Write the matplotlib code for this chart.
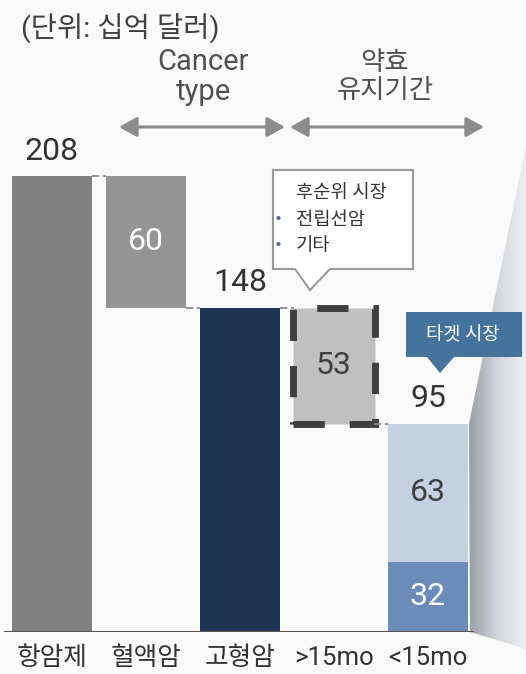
import numpy as np
import matplotlib.pyplot as plt
from matplotlib.patches import Polygon, FancyArrowPatch
from matplotlib.colors import LinearSegmentedColormap

plt.rcParams['font.family'] = ['Roboto', 'Noto Sans CJK KR', 'DejaVu Sans']

# 시장 규모 (단위: 십억 달러)
categories = ['항암제', '혈액암', '고형암', '>15mo', '<15mo']
total = 208
blood = 60
solid = 148
over15 = 53
under15_top = 63
under15_low = 32
target = 95

W, H = 526, 674
fig = plt.figure(figsize=(W / 100, H / 100), dpi=100, facecolor='#fafafa')

# 배경 레이어 (픽셀 좌표)
bg = fig.add_axes([0, 0, 1, 1])
bg.axis('off')

# 오른쪽 확대 효과 쐐기
cmap = LinearSegmentedColormap.from_list('wedge', ['#959ba4', '#d3d6da', '#eceef0'])
wedge = Polygon([(526, 145), (469, 424), (470, 632), (526, 649)], closed=True,
                transform=bg.transData, facecolor='none', edgecolor='none')
bg.add_patch(wedge)
im = bg.imshow(np.linspace(0, 1, 256).reshape(1, -1), cmap=cmap,
               extent=[468, 526, 650, 145], aspect='auto', zorder=0)
im.set_clip_path(wedge)
bg.set_xlim(0, W)
bg.set_ylim(H, 0)

# 제목 / 그룹 라벨
bg.text(21, 29, '(단위: 십억 달러)', fontsize=20.5, va='center', color='#404040')
bg.text(203, 77, 'Cancer\ntype', fontsize=21, ha='center', va='center',
        color='#505050', linespacing=1.1)
bg.text(385, 77, '약효\n유지기간', fontsize=19, ha='center', va='center',
        color='#505050', linespacing=1.25)

for x0, x1 in [(119, 285), (290, 484)]:
    bg.add_patch(FancyArrowPatch((x0, 127), (x1, 127),
                                 arrowstyle='<|-|>,head_length=0.9,head_width=0.5',
                                 mutation_scale=12, color='#8c8c8c', lw=2.2,
                                 shrinkA=0, shrinkB=0))

# 말풍선: 후순위 시장
bg.add_patch(Polygon([(273, 170), (413, 170), (413, 269), (330, 269), (310, 290),
                      (295, 269), (273, 269)], closed=True,
                     facecolor='white', edgecolor='#9a9a9a', lw=1.5, zorder=3))
bg.text(296, 193, '후순위 시장', fontsize=13.5, va='center', color='#333333', zorder=4)
for yy, t in [(220, '전립선암'), (246, '기타')]:
    bg.text(278, yy, '•', fontsize=15, va='center', ha='center', color='#5a6b82', zorder=4)
    bg.text(296, yy, t, fontsize=13.5, va='center', color='#333333', zorder=4)

# 말풍선: 타겟 시장
bg.add_patch(Polygon([(406, 312), (522, 312), (522, 357), (454, 357), (440, 373),
                      (427, 357), (406, 357)], closed=True,
                     facecolor='#44739b', edgecolor='none', zorder=3))
bg.text(463, 335, '타겟 시장', fontsize=13.5, ha='center', va='center',
        color='white', zorder=4)

# 메인 폭포 차트
ppu = (632 - 176) / total
ax = fig.add_axes([0, 42 / H, 1, 632 / H])
ax.patch.set_alpha(0)
ax.set_xlim(-52 / 94, (W - 52) / 94)
ax.set_ylim(0, 632 / ppu)
for s in ax.spines.values():
    s.set_visible(False)
ax.set_yticks([])

bw = 0.85
x = np.arange(len(categories))
ax.bar(x[0], total, width=bw, color='#808080')
ax.bar(x[1], blood, bottom=total - blood, width=bw, color='#959595')
ax.bar(x[2], solid, width=bw, color='#1f3554')
ax.bar(x[3], over15, bottom=solid - over15, width=bw + 0.02, color='#c0c0c0',
       edgecolor='#404040', linewidth=5, linestyle=(0, (4.5, 3.6)))
ax.bar(x[4], under15_low, width=bw, color='#6b8cb9')
ax.bar(x[4], under15_top, bottom=under15_low, width=bw, color='#c5d0e1')

# 연결 점선
for i, lvl in [(0, total), (1, solid), (2, solid), (3, target)]:
    ax.hlines(lvl, i + bw / 2, i + 1 - bw / 2, colors='#8a8a8a', lw=1.3,
              linestyles=(0, (4, 2)))

ax.axhline(0, xmin=5 / W, xmax=473 / W, color='#555555', lw=1.5)

# 값 라벨
for i, v in [(0, total), (2, solid), (4, target)]:
    ax.annotate(str(v), (i, v), xytext=(0, 18), textcoords='offset points',
                ha='center', va='center', fontsize=23, color='#333333')
ax.text(1, total - blood / 2, str(blood), ha='center', va='center', fontsize=23, color='white')
ax.text(3, solid - over15 / 2, str(over15), ha='center', va='center', fontsize=23, color='#404040')
ax.text(4, under15_low + under15_top / 2, str(under15_top), ha='center', va='center',
        fontsize=23, color='#404040')
ax.text(4, under15_low / 2, str(under15_low), ha='center', va='center', fontsize=23, color='white')

ax.set_xticks(x, categories, fontsize=18.5, color='#333333')
ax.tick_params(axis='x', length=0, pad=10)

fig.savefig('out.png', dpi=100, facecolor=fig.get_facecolor())
